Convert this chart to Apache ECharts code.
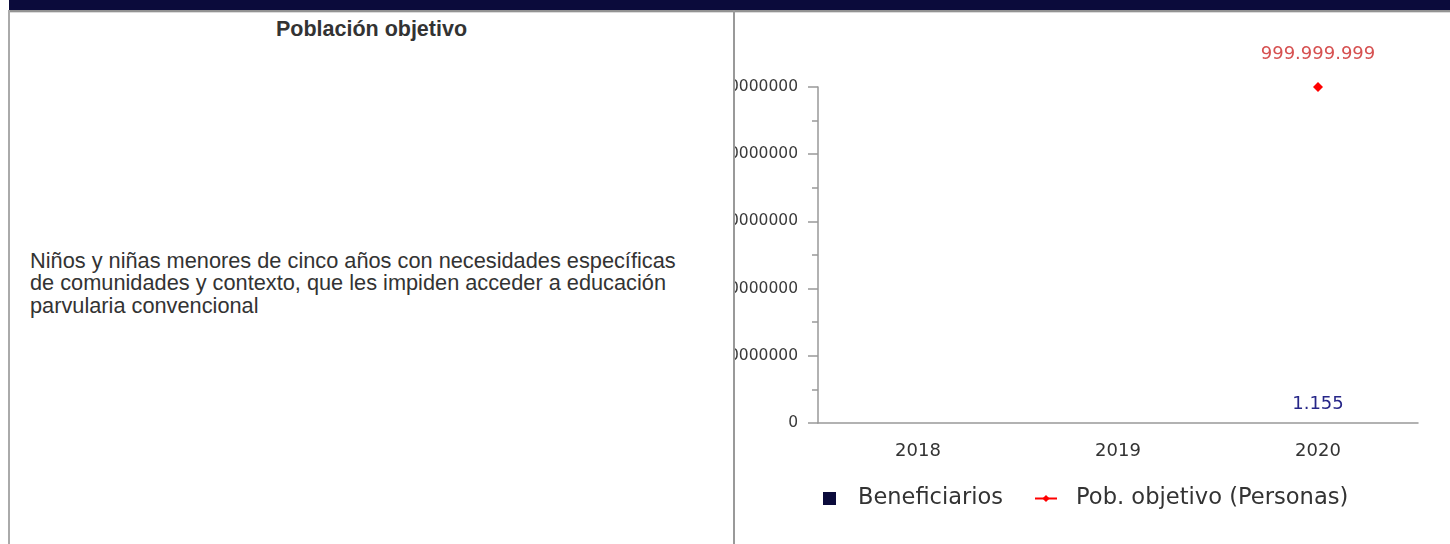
<!DOCTYPE html>
<html>
<head>
<meta charset="utf-8">
<script src="https://cdn.jsdelivr.net/npm/echarts@6/dist/echarts.min.js"></script>
<style>
html,body{margin:0;padding:0;width:1450px;height:544px;overflow:hidden;background:#fff;}
#band{position:absolute;left:9px;top:0;width:1441px;height:10px;background:#0b0b3b;}
#bandline{position:absolute;left:9px;top:10px;width:1441px;height:2px;background:#939393;}
#bandline2{position:absolute;left:9px;top:12px;width:1441px;height:1px;background:#dcdcdc;}
#lborder{position:absolute;left:8px;top:10px;width:2px;height:534px;background:#aaa;}
#divider{position:absolute;left:733px;top:10px;width:2px;height:534px;background:#999;}
#hdr{position:absolute;left:10px;width:723px;top:19px;text-align:center;font:bold 21.5px/21.5px 'Liberation Sans',Arial,sans-serif;color:#333;}
#txt{position:absolute;left:30px;top:249.5px;font:21.75px/22.8px 'Liberation Sans',Arial,sans-serif;color:#333;white-space:nowrap;}
#clip{position:absolute;left:735px;top:0;width:715px;height:544px;overflow:hidden;}
#chart{position:absolute;left:-135px;top:0;width:850px;height:544px;}
</style>
</head>
<body>
<div id="band"></div>
<div id="bandline"></div>
<div id="bandline2"></div>
<div id="lborder"></div>
<div id="divider"></div>
<div id="hdr">Población objetivo</div>
<div id="txt">Niños y niñas menores de cinco años con necesidades específicas<br>de comunidades y contexto, que les impiden acceder a educación<br>parvularia convencional</div>
<div id="clip"><div id="chart"></div></div>
<script>
const categories = ['2018', '2019', '2020'];
const beneficiarios = [null, null, 1155];
const poblacionObjetivo = [null, null, 999999999];
const seriesNames = ['Beneficiarios', 'Pob. objetivo (Personas)'];
const yMin = 0;
const yMax = 1000000000;
const yStep = 200000000;

function fmt(v) {
  return String(v).replace(/\B(?=(\d{3})+(?!\d))/g, '.');
}

const chart = echarts.init(document.getElementById('chart'), null, {renderer: 'canvas'});
const font = 'DejaVu Sans';
const option = {
  animation: false,
  textStyle: {fontFamily: font},
  grid: {left: 218, right: 32, top: 87, bottom: 121, containLabel: false},
  legend: [
    {
      data: [seriesNames[0]], left: 223, top: 487, padding: 0,
      itemWidth: 13, itemHeight: 13, icon: 'rect',
      textStyle: {fontFamily: font, fontSize: 22.5, color: '#333', padding: [0, 0, 0, 17]}
    },
    {
      data: [seriesNames[1]], left: 434, top: 487, padding: 0,
      itemWidth: 22, itemHeight: 9,
      textStyle: {fontFamily: font, fontSize: 22.6, color: '#333', padding: [0, 0, 0, 14]}
    }
  ],
  xAxis: {
    type: 'category', data: categories, boundaryGap: true,
    axisLine: {lineStyle: {color: '#999', width: 1.5}},
    axisTick: {show: false},
    axisLabel: {fontFamily: font, fontSize: 18, color: '#333', margin: 19}
  },
  yAxis: {
    type: 'value', min: yMin, max: yMax, interval: yStep,
    axisLine: {show: true, lineStyle: {color: '#999', width: 1.5}},
    axisTick: {show: true, length: 10, lineStyle: {color: '#999', width: 1.5}},
    minorTick: {show: true, splitNumber: 2, length: 6, lineStyle: {color: '#999', width: 1.5}},
    splitLine: {show: false},
    axisLabel: {fontFamily: font, fontSize: 15.5, color: '#3a3a3a', margin: 20, formatter: v => String(v)}
  },
  series: [
    {
      name: seriesNames[0], type: 'bar', data: beneficiarios,
      itemStyle: {color: '#0b0b3b'},
      label: {show: true, position: 'top', distance: 10, fontFamily: font, fontSize: 18, color: '#262688',
        formatter: p => fmt(p.value)}
    },
    {
      name: seriesNames[1], type: 'line', data: poblacionObjetivo,
      symbol: 'diamond', symbolSize: 10,
      itemStyle: {color: '#ff0000'}, lineStyle: {color: '#ff0000', width: 2},
      label: {show: true, position: 'top', distance: 19, fontFamily: font, fontSize: 18, color: '#d65050',
        formatter: p => fmt(p.value)}
    }
  ]
};
chart.setOption(option);
</script>
</body>
</html>
